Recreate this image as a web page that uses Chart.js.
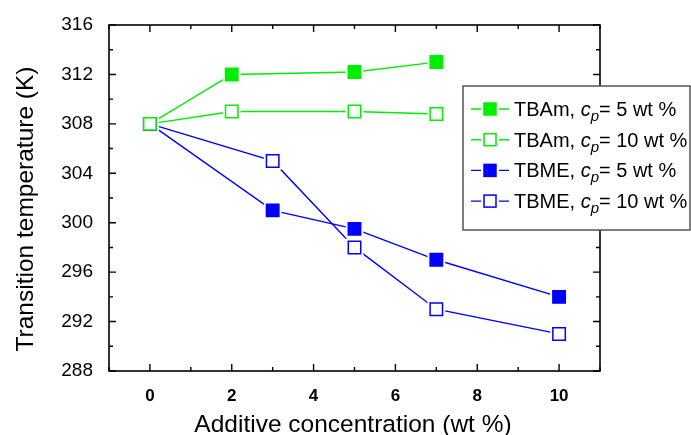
<!DOCTYPE html>
<html>
<head>
<meta charset="utf-8">
<title>Transition temperature</title>
<script src="https://cdn.jsdelivr.net/npm/chart.js@4/dist/chart.umd.min.js"></script>
<style>
body { margin: 0; background: #fff; }
</style>
</head>
<body>
<canvas id="tempChart" width="691" height="435"></canvas>
<script>
// additive concentration (wt %) for each family
var tbamConc = [0, 2, 5, 7];
var tbmeConc = [0, 3, 5, 7, 10];
// transition temperature (K)
var tbam5 = [308, 312, 312.2, 313];
var tbam10 = [308, 309, 309, 308.8];
var tbme5 = [308, 301, 299.5, 297, 294];
var tbme10 = [308, 305, 298, 293, 291];
// axis ticks
var xTicks = [0, 2, 4, 6, 8, 10];
var xMinor = [-1, 1, 3, 5, 7, 9, 11];
var yTicks = [288, 292, 296, 300, 304, 308, 312, 316];
var yMinor = [290, 294, 298, 302, 306, 310, 314];

var GREEN = '#00ee00';
var BLUE = '#0000ff';
var FONT = '"Liberation Sans", Arial, sans-serif';

var series = [
  {name: 'TBAm', cp: '5', x: tbamConc, y: tbam5, color: GREEN, filled: true},
  {name: 'TBAm', cp: '10', x: tbamConc, y: tbam10, color: GREEN, filled: false},
  {name: 'TBME', cp: '5', x: tbmeConc, y: tbme5, color: BLUE, filled: true},
  {name: 'TBME', cp: '10', x: tbmeConc, y: tbme10, color: BLUE, filled: false}
];

function pts(s) {
  return s.x.map(function (v, i) { return {x: v, y: s.y[i]}; });
}

var datasets = [];
series.forEach(function (s, i) {
  // connecting line, with a white pad under each marker so the line stops short of it
  datasets.push({
    data: pts(s),
    borderColor: s.color,
    borderWidth: 1.4,
    pointStyle: 'rect',
    pointRadius: 12.5,
    pointBackgroundColor: '#fff',
    pointBorderColor: '#fff',
    pointBorderWidth: 0,
    order: 10 + i
  });
  // the square markers themselves
  datasets.push({
    data: pts(s),
    showLine: false,
    pointStyle: 'rect',
    pointRadius: 8.8,
    pointBackgroundColor: s.filled ? s.color : '#fff',
    pointBorderColor: s.color,
    pointBorderWidth: 1.5,
    order: s.name === 'TBAm' && !s.filled ? 0 : 5 - i
  });
});

function drawLegendMarker(ctx, s, cx, cy) {
  ctx.strokeStyle = s.color;
  ctx.lineWidth = 1.4;
  ctx.beginPath();
  ctx.moveTo(cx - 19, cy); ctx.lineTo(cx - 9, cy);
  ctx.moveTo(cx + 9, cy); ctx.lineTo(cx + 19, cy);
  ctx.stroke();
  ctx.fillStyle = s.filled ? s.color : '#fff';
  ctx.fillRect(cx - 6, cy - 6, 12, 12);
  ctx.lineWidth = 1.5;
  ctx.strokeRect(cx - 6, cy - 6, 12, 12);
}

var framePlugin = {
  id: 'frame',
  afterDraw: function (chart) {
    var ctx = chart.ctx;
    var a = chart.chartArea;
    var xs = chart.scales.x, ys = chart.scales.y;
    ctx.save();
    ctx.strokeStyle = '#000';
    ctx.lineWidth = 1.6;
    ctx.strokeRect(a.left, a.top, a.right - a.left, a.bottom - a.top);

    // inward tick marks on all four sides
    ctx.lineWidth = 1.4;
    ctx.beginPath();
    function xt(v, len) {
      var px = xs.getPixelForValue(v);
      ctx.moveTo(px, a.bottom); ctx.lineTo(px, a.bottom - len);
      ctx.moveTo(px, a.top); ctx.lineTo(px, a.top + len);
    }
    function yt(v, len) {
      var py = ys.getPixelForValue(v);
      ctx.moveTo(a.left, py); ctx.lineTo(a.left + len, py);
      ctx.moveTo(a.right, py); ctx.lineTo(a.right - len, py);
    }
    xTicks.forEach(function (v) { xt(v, 7); });
    xMinor.forEach(function (v) { xt(v, 4); });
    yTicks.forEach(function (v) { yt(v, 7); });
    yMinor.forEach(function (v) { yt(v, 4); });
    ctx.stroke();

    // axis titles
    ctx.fillStyle = '#000';
    ctx.font = '24.5px ' + FONT;
    ctx.textAlign = 'center';
    ctx.textBaseline = 'alphabetic';
    ctx.fillText('Additive concentration (wt %)', 353, 432);
    ctx.save();
    ctx.translate(33, 209);
    ctx.rotate(-Math.PI / 2);
    ctx.fillText('Transition temperature (K)', 0, 0);
    ctx.restore();

    // legend
    var bx = 463, by = 86, bw = 227, bh = 144;
    ctx.fillStyle = '#fff';
    ctx.fillRect(bx, by, bw, bh);
    ctx.strokeStyle = '#555';
    ctx.lineWidth = 1.5;
    ctx.strokeRect(bx, by, bw, bh);
    ctx.textAlign = 'left';
    series.forEach(function (s, i) {
      var cy = 109 + i * 30.7;
      drawLegendMarker(ctx, s, 490, cy);
      var tx = 514, base = cy + 7;
      ctx.fillStyle = '#000';
      ctx.font = '20px ' + FONT;
      var head = s.name + ', ';
      ctx.fillText(head, tx, base);
      tx += ctx.measureText(head).width;
      ctx.font = 'italic 20px ' + FONT;
      ctx.fillText('c', tx, base);
      tx += ctx.measureText('c').width;
      ctx.font = 'italic 15px ' + FONT;
      ctx.fillText('p', tx, base + 5);
      tx += ctx.measureText('p').width;
      ctx.font = '20px ' + FONT;
      ctx.fillText('= ' + s.cp + ' wt %', tx, base);
    });
    ctx.restore();
  }
};

new Chart(document.getElementById('tempChart'), {
  type: 'line',
  data: {datasets: datasets},
  options: {
    responsive: false,
    animation: false,
    devicePixelRatio: 1,
    layout: {padding: {top: 25, right: 91, left: 0, bottom: 0}},
    plugins: {legend: {display: false}, tooltip: {enabled: false}},
    scales: {
      x: {
        type: 'linear',
        min: -1, max: 11,
        afterBuildTicks: function (s) { s.ticks = xTicks.map(function (v) { return {value: v}; }); },
        afterFit: function (s) { s.height = 64; },
        grid: {display: false},
        border: {display: false},
        ticks: {color: '#000', padding: 7, maxRotation: 0, font: {family: FONT, size: 17, weight: 'bold'}}
      },
      y: {
        type: 'linear',
        min: 288, max: 316,
        afterBuildTicks: function (s) { s.ticks = yTicks.map(function (v) { return {value: v}; }); },
        afterFit: function (s) { s.width = 109; },
        grid: {display: false},
        border: {display: false},
        ticks: {color: '#000', padding: 8, font: {family: FONT, size: 19}}
      }
    }
  },
  plugins: [framePlugin]
});
</script>
</body>
</html>
